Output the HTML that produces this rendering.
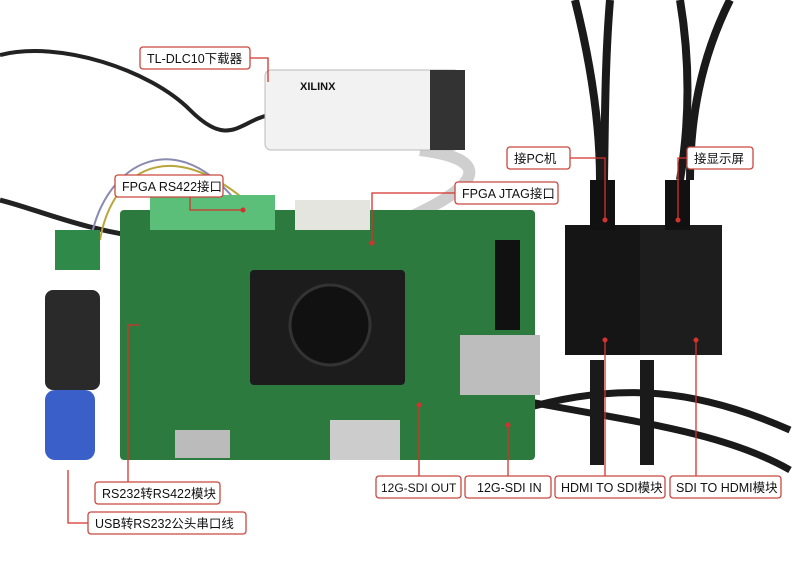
<!DOCTYPE html>
<html><head><meta charset="utf-8"><style>
body{margin:0;background:#fff;}
svg{display:block}
text{font-family:"Liberation Sans","Noto Sans CJK SC",sans-serif;font-size:12.5px;fill:#111}
.lb{fill:#fff;stroke:#c9473f;stroke-width:1.3}
.ln{stroke:#d4322c;stroke-width:1.3;fill:none}
</style></head><body>
<svg width="800" height="562" viewBox="0 0 800 562">
<path d="M0 55 C60 40 150 70 190 110 S240 120 270 115" stroke="#222" stroke-width="4" fill="none"/>
<path d="M0 200 C40 210 80 230 160 240" stroke="#222" stroke-width="5" fill="none"/>
<path d="M575 0 C590 60 600 120 600 180" stroke="#1a1a1a" stroke-width="8" fill="none"/>
<path d="M610 0 C605 60 605 120 604 180" stroke="#1a1a1a" stroke-width="8" fill="none"/>
<path d="M680 0 C690 60 690 120 680 180" stroke="#1a1a1a" stroke-width="8" fill="none"/>
<path d="M730 0 C700 60 690 120 690 180" stroke="#1a1a1a" stroke-width="8" fill="none"/>
<path d="M520 400 C620 420 720 430 790 470" stroke="#1a1a1a" stroke-width="7" fill="none"/>
<path d="M520 410 C620 380 700 390 790 430" stroke="#1a1a1a" stroke-width="7" fill="none"/>
<rect x="590" y="360" width="14" height="105" fill="#1a1a1a"/>
<rect x="640" y="360" width="14" height="105" fill="#1a1a1a"/>
<path d="M100 240 C110 180 160 130 245 200" stroke="#b9a53a" stroke-width="2" fill="none"/>
<path d="M90 245 C100 170 170 120 235 200" stroke="#8a8ab0" stroke-width="2" fill="none"/>
<path d="M420 150 C500 160 480 190 380 230" stroke="#cfcfcf" stroke-width="12" fill="none"/>
<rect x="265" y="70" width="195" height="80" rx="6" fill="#f2f2f2" stroke="#bbb"/>
<rect x="430" y="70" width="35" height="80" fill="#333"/>
<text x="300" y="90" style="font-size:11px;font-weight:bold">XILINX</text>
<rect x="120" y="210" width="415" height="250" rx="4" fill="#2d7a3e"/>
<rect x="150" y="195" width="125" height="35" fill="#5bbf7a"/>
<rect x="295" y="200" width="75" height="30" fill="#e5e5e0"/>
<rect x="250" y="270" width="155" height="115" rx="4" fill="#1c1c1c"/>
<circle cx="330" cy="325" r="40" fill="#111" stroke="#333" stroke-width="3"/>
<rect x="460" y="335" width="80" height="60" fill="#bdbdbd"/>
<rect x="495" y="240" width="25" height="90" fill="#111"/>
<rect x="175" y="430" width="55" height="28" fill="#bbb"/>
<rect x="330" y="420" width="70" height="40" fill="#ccc"/>
<rect x="565" y="225" width="80" height="130" fill="#151515"/>
<rect x="640" y="225" width="82" height="130" fill="#1d1d1d"/>
<rect x="590" y="180" width="25" height="50" fill="#111"/>
<rect x="665" y="180" width="25" height="50" fill="#111"/>
<rect x="55" y="230" width="45" height="40" fill="#2f8a4a"/>
<rect x="45" y="290" width="55" height="100" rx="8" fill="#2a2a2a"/>
<rect x="45" y="390" width="50" height="70" rx="10" fill="#3a5fc8"/>
<g>
<path class="ln" d="M250 58 H268 V82"/>
<rect class="lb" x="140" y="47" width="110" height="22" rx="3"/><text x="147" y="63">TL-DLC10下载器</text>
<path class="ln" d="M190 194 V210 H243"/><circle cx="243" cy="210" r="2.5" fill="#d4322c"/>
<rect class="lb" x="115" y="175" width="108" height="22" rx="3"/><text x="122" y="191">FPGA RS422接口</text>
<path class="ln" d="M455 193 H372 V243"/><circle cx="372" cy="243" r="2.5" fill="#d4322c"/>
<rect class="lb" x="455" y="182" width="103" height="22" rx="3"/><text x="462" y="198">FPGA JTAG接口</text>
<path class="ln" d="M570 158 H605 V220"/><circle cx="605" cy="220" r="2.5" fill="#d4322c"/>
<rect class="lb" x="507" y="147" width="63" height="22" rx="3"/><text x="514" y="163">接PC机</text>
<path class="ln" d="M687 158 H678 V220"/><circle cx="678" cy="220" r="2.5" fill="#d4322c"/>
<rect class="lb" x="687" y="147" width="66" height="22" rx="3"/><text x="694" y="163">接显示屏</text>
<path class="ln" d="M128 484 V325 H140"/>
<rect class="lb" x="95" y="482" width="125" height="22" rx="3"/><text x="102" y="498">RS232转RS422模块</text>
<path class="ln" d="M68 470 V523 H88"/>
<rect class="lb" x="88" y="512" width="158" height="22" rx="3"/><text x="95" y="528">USB转RS232公头串口线</text>
<path class="ln" d="M419 476 V405"/><circle cx="419" cy="405" r="2.5" fill="#d4322c"/>
<rect class="lb" x="376" y="476" width="85" height="22" rx="3"/><text x="381" y="492" style="font-size:12px">12G-SDI OUT</text>
<path class="ln" d="M508 476 V425"/><circle cx="508" cy="425" r="2.5" fill="#d4322c"/>
<rect class="lb" x="465" y="476" width="86" height="22" rx="3"/><text x="477" y="492">12G-SDI IN</text>
<path class="ln" d="M605 476 V340"/><circle cx="605" cy="340" r="2.5" fill="#d4322c"/>
<rect class="lb" x="555" y="476" width="110" height="22" rx="3"/><text x="561" y="492">HDMI TO SDI模块</text>
<path class="ln" d="M696 476 V340"/><circle cx="696" cy="340" r="2.5" fill="#d4322c"/>
<rect class="lb" x="670" y="476" width="111" height="22" rx="3"/><text x="676" y="492">SDI TO HDMI模块</text>
</g>
</svg>
</body></html>
